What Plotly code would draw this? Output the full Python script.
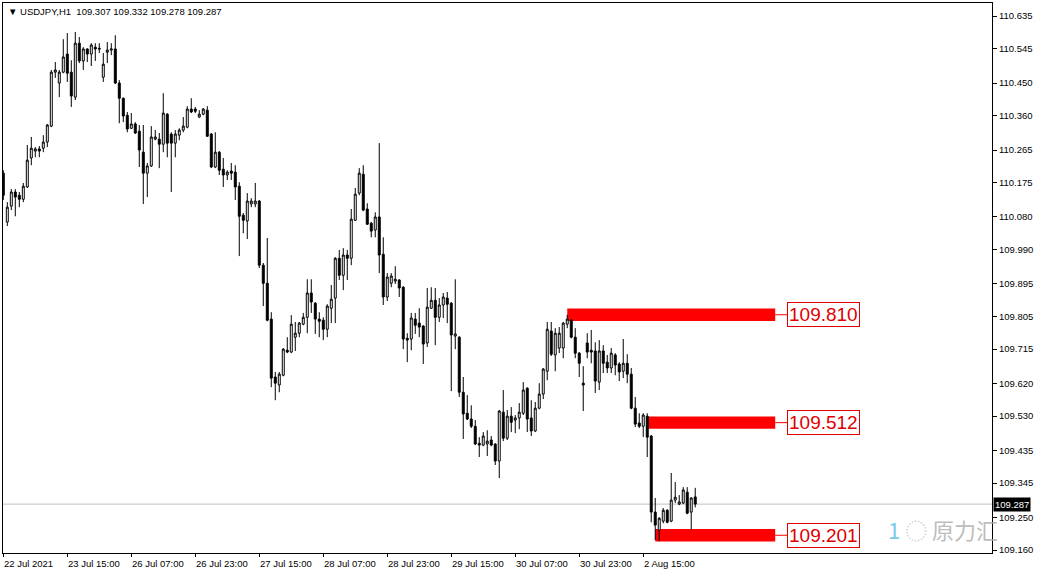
import plotly.graph_objects as go

# ---------------- data (USDJPY H1) ----------------
opens = [
110.201,110.066,110.110,110.149,110.140,110.129,110.163,110.243,110.262,110.268,
110.270,110.287,110.331,110.480,110.450,110.480,110.530,110.480,110.411,110.560,
110.511,110.544,110.530,110.549,110.546,110.466,110.535,110.541,110.544,110.450,
110.408,110.361,110.325,110.337,110.317,110.259,110.201,110.221,110.295,110.295,
110.281,110.364,110.309,110.284,110.306,110.320,110.328,110.378,110.378,110.356,
110.364,110.375,110.309,110.218,110.259,110.212,110.196,110.207,110.204,110.165,
110.085,110.069,110.116,110.116,110.124,109.947,109.897,109.798,109.638,109.616,
109.643,109.712,109.707,109.748,109.759,109.784,109.803,109.870,109.842,109.798,
109.795,109.770,109.828,109.856,109.966,109.919,109.975,109.966,110.071,110.146,
110.198,110.102,110.063,110.044,110.080,109.977,109.859,109.897,109.903,109.906,
109.886,109.745,109.743,109.798,109.787,109.779,109.732,109.828,109.850,109.803,
109.837,109.856,109.842,109.751,109.748,109.596,109.538,109.522,109.502,109.455,
109.450,109.453,109.464,109.453,109.406,109.541,109.469,109.530,109.519,109.525,
109.538,109.607,109.525,109.489,109.552,109.591,109.654,109.765,109.699,109.718,
109.718,109.784,109.795,109.748,109.704,109.621,109.732,109.712,109.710,109.624,
109.710,109.679,109.663,109.699,109.674,109.654,109.676,109.646,109.552,109.511,
109.502,109.530,109.475,109.265,109.215,109.240,109.270,109.240,109.298,109.287,
109.290,109.320,109.265,109.307]

highs = [
110.209,110.121,110.157,110.157,110.149,110.174,110.279,110.301,110.273,110.276,
110.306,110.337,110.486,110.508,110.486,110.571,110.588,110.513,110.591,110.577,
110.549,110.546,110.560,110.560,110.560,110.533,110.563,110.560,110.582,110.458,
110.410,110.370,110.367,110.342,110.334,110.334,110.229,110.331,110.320,110.312,
110.422,110.367,110.314,110.320,110.325,110.356,110.386,110.408,110.384,110.375,
110.381,110.386,110.312,110.314,110.262,110.243,110.209,110.229,110.223,110.176,
110.091,110.146,110.132,110.174,110.127,109.953,110.022,109.817,109.652,109.652,
109.718,109.748,109.809,109.790,109.790,109.815,109.908,109.908,109.845,109.817,
109.803,109.839,109.892,109.969,109.989,109.994,109.989,110.102,110.160,110.215,
110.223,110.118,110.066,110.093,110.284,110.024,109.925,109.925,109.944,109.908,
109.889,109.759,109.815,109.815,109.828,109.781,109.884,109.886,109.884,109.856,
109.870,109.873,109.845,109.908,109.751,109.638,109.588,109.560,109.519,109.472,
109.486,109.491,109.475,109.455,109.547,109.602,109.547,109.555,109.533,109.566,
109.624,109.610,109.574,109.569,109.621,109.663,109.790,109.790,109.773,109.776,
109.790,109.810,109.798,109.773,109.707,109.668,109.759,109.768,109.734,109.740,
109.726,109.699,109.718,109.704,109.679,109.743,109.701,109.663,109.583,109.538,
109.538,109.538,109.478,109.304,109.251,109.276,109.273,109.373,109.348,109.312,
109.334,109.334,109.306,109.332]

lows = [
110.127,110.055,110.099,110.082,110.107,110.121,110.160,110.223,110.245,110.245,
110.259,110.273,110.328,110.464,110.411,110.477,110.453,110.384,110.403,110.505,
110.486,110.508,110.497,110.511,110.533,110.453,110.505,110.527,110.447,110.339,
110.342,110.314,110.323,110.309,110.218,110.116,110.135,110.218,110.292,110.215,
110.259,110.245,110.149,110.245,110.292,110.314,110.325,110.367,110.367,110.353,
110.361,110.301,110.215,110.215,110.196,110.163,110.182,110.182,110.127,109.972,
110.035,110.019,110.107,110.107,109.939,109.834,109.792,109.610,109.574,109.596,
109.640,109.704,109.704,109.710,109.748,109.781,109.759,109.815,109.757,109.748,
109.740,109.748,109.787,109.787,109.906,109.878,109.906,109.947,110.069,110.140,
110.096,110.058,110.024,110.024,109.925,109.837,109.848,109.886,109.895,109.859,
109.715,109.679,109.712,109.757,109.748,109.674,109.721,109.826,109.726,109.790,
109.801,109.787,109.599,109.715,109.583,109.467,109.519,109.497,109.450,109.417,
109.447,109.420,109.447,109.395,109.359,109.461,109.464,109.486,109.483,109.494,
109.533,109.486,109.475,109.486,109.549,109.577,109.629,109.696,109.654,109.704,
109.690,109.773,109.745,109.690,109.638,109.544,109.690,109.676,109.594,109.602,
109.649,109.649,109.649,109.643,109.627,109.635,109.621,109.549,109.500,109.497,
109.472,109.417,109.237,109.188,109.185,109.234,109.234,109.237,109.290,109.284,
109.287,109.259,109.215,109.278]

closes = [
110.140,110.107,110.149,110.135,110.129,110.165,110.237,110.270,110.268,110.262,
110.287,110.334,110.480,110.486,110.480,110.522,110.477,110.414,110.560,110.511,
110.544,110.530,110.555,110.544,110.544,110.502,110.541,110.544,110.450,110.408,
110.359,110.323,110.337,110.312,110.265,110.201,110.221,110.301,110.301,110.281,
110.367,110.284,110.284,110.309,110.320,110.331,110.378,110.370,110.372,110.364,
110.378,110.303,110.218,110.259,110.209,110.196,110.204,110.201,110.163,110.082,
110.071,110.124,110.124,110.124,109.947,109.897,109.795,109.635,109.621,109.646,
109.715,109.707,109.784,109.759,109.787,109.803,109.870,109.845,109.798,109.792,
109.770,109.834,109.853,109.966,109.919,109.975,109.966,110.074,110.143,110.201,
110.099,110.060,110.041,110.080,109.975,109.859,109.914,109.917,109.908,109.884,
109.743,109.740,109.801,109.781,109.776,109.729,109.831,109.850,109.803,109.837,
109.859,109.839,109.754,109.757,109.596,109.536,109.522,109.502,109.453,109.450,
109.475,109.461,109.450,109.406,109.544,109.469,109.530,109.513,109.525,109.541,
109.602,109.522,109.489,109.552,109.591,109.660,109.770,109.701,109.759,109.759,
109.787,109.798,109.748,109.704,109.676,109.616,109.707,109.707,109.627,109.710,
109.676,109.663,109.704,109.671,109.652,109.676,109.646,109.552,109.508,109.502,
109.533,109.472,109.265,109.229,109.248,109.270,109.237,109.298,109.306,109.293,
109.326,109.262,109.304,109.287]

assert len(opens) == len(highs) == len(lows) == len(closes) == 174

bar_index = list(range(len(opens)))

# time-axis labels (bar index of each label)
xtick_pos = [0, 16, 32, 48, 64, 80, 96, 112, 128, 144, 160]
xtick_text = ["22 Jul 2021", "23 Jul 15:00", "26 Jul 07:00", "26 Jul 23:00",
              "27 Jul 15:00", "28 Jul 07:00", "28 Jul 23:00", "29 Jul 15:00",
              "30 Jul 07:00", "30 Jul 23:00", "2 Aug 15:00"]

# price-axis labels
ytick_vals = [110.635, 110.545, 110.450, 110.360, 110.265, 110.175, 110.080,
              109.990, 109.895, 109.805, 109.715, 109.620, 109.530, 109.435,
              109.345, 109.250, 109.160]
ytick_text = ["%.3f" % v for v in ytick_vals]

# marked levels
level_values = [109.810, 109.512, 109.201]
level_start = [141, 161, 163]
level_end = 193
label_bar = 196
level_half = 0.017

last_bid = 109.287
title_text = "USDJPY,H1  109.307 109.332 109.278 109.287"

# ---------------- figure ----------------
fig = go.Figure()
fig.add_trace(go.Candlestick(
    x=bar_index, open=opens, high=highs, low=lows, close=closes,
    increasing=dict(line=dict(color="black", width=1), fillcolor="white"),
    decreasing=dict(line=dict(color="black", width=1), fillcolor="black"),
    whiskerwidth=0, showlegend=False, hoverinfo="skip"))

shapes = []
annotations = []

# current price line
shapes.append(dict(type="line", xref="paper", x0=0, x1=1, yref="y",
                   y0=last_bid, y1=last_bid, line=dict(color="#c0c0c0", width=1),
                   layer="below"))

for lv, st in zip(level_values, level_start):
    shapes.append(dict(type="rect", xref="x", yref="y", x0=st, x1=level_end,
                       y0=lv - level_half, y1=lv + level_half,
                       fillcolor="#ff0000", line=dict(width=0), layer="below"))
    shapes.append(dict(type="line", xref="x", yref="y", x0=level_end, x1=label_bar,
                       y0=lv, y1=lv, line=dict(color="#ff0000", width=1)))
    annotations.append(dict(x=label_bar, y=lv, xref="x", yref="y", text="%.3f" % lv,
                            showarrow=False, xanchor="left", yanchor="middle",
                            font=dict(family="Liberation Sans, Arial", size=19, color="#e00000"),
                            bgcolor="white", bordercolor="#e00000", borderwidth=1,
                            borderpad=1))

# time labels (left-aligned at their tick)
for p, t in zip(xtick_pos, xtick_text):
    annotations.append(dict(x=p, y=0, xref="x", yref="paper", text=t,
                            showarrow=False, xanchor="left", yanchor="top",
                            yshift=-3, xshift=-1,
                            font=dict(family="Liberation Sans, Arial", size=9.5, color="black")))

# title
annotations.append(dict(x=0, y=1, xref="paper", yref="paper", xshift=3, yshift=-1,
                        text="▼ " + title_text, showarrow=False,
                        xanchor="left", yanchor="top",
                        font=dict(family="Liberation Sans, Arial", size=9.5, color="black")))

# current price tag on the price axis
annotations.append(dict(x=1, y=last_bid, xref="paper", yref="y", text="%.3f" % last_bid,
                        showarrow=False, xanchor="left", yanchor="middle", xshift=1,
                        font=dict(family="Liberation Sans, Arial", size=9.5, color="white"),
                        bgcolor="black", borderpad=1))

# watermark
annotations.append(dict(x=1, y=0, xref="paper", yref="paper", xanchor="right", yanchor="bottom",
                        xshift=8, yshift=6, showarrow=False,
                        text="<span style='color:#4db8e6'>1</span><span style='color:#c8c8c8'> ◌ </span>原力汇",
                        font=dict(family="Noto Sans CJK SC", size=22, color="#a8a8a8"),
                        opacity=0.75))

fig.update_layout(
    width=1038, height=576,
    margin=dict(l=3, r=46, t=3, b=23),
    paper_bgcolor="white", plot_bgcolor="white",
    showlegend=False,
    shapes=shapes, annotations=annotations,
    xaxis=dict(range=[-0.075, 247.2], showgrid=False, zeroline=False,
               showline=True, mirror=True, linecolor="black", linewidth=1,
               tickmode="array", tickvals=xtick_pos, ticks="outside", ticklen=3,
               tickcolor="black", showticklabels=False,
               rangeslider=dict(visible=False), fixedrange=True),
    yaxis=dict(range=[109.152, 110.671], side="right", showgrid=False, zeroline=False,
               showline=True, mirror=True, linecolor="black", linewidth=1,
               tickmode="array", tickvals=ytick_vals, ticktext=ytick_text,
               ticks="outside", ticklen=4, tickcolor="black",
               tickfont=dict(family="Liberation Sans, Arial", size=9.5, color="black"),
               fixedrange=True),
)

fig.write_html("out.html",
               config={"displayModeBar": False, "staticPlot": True},
               post_script="document.body.style.margin='0';document.body.style.padding='0';")
